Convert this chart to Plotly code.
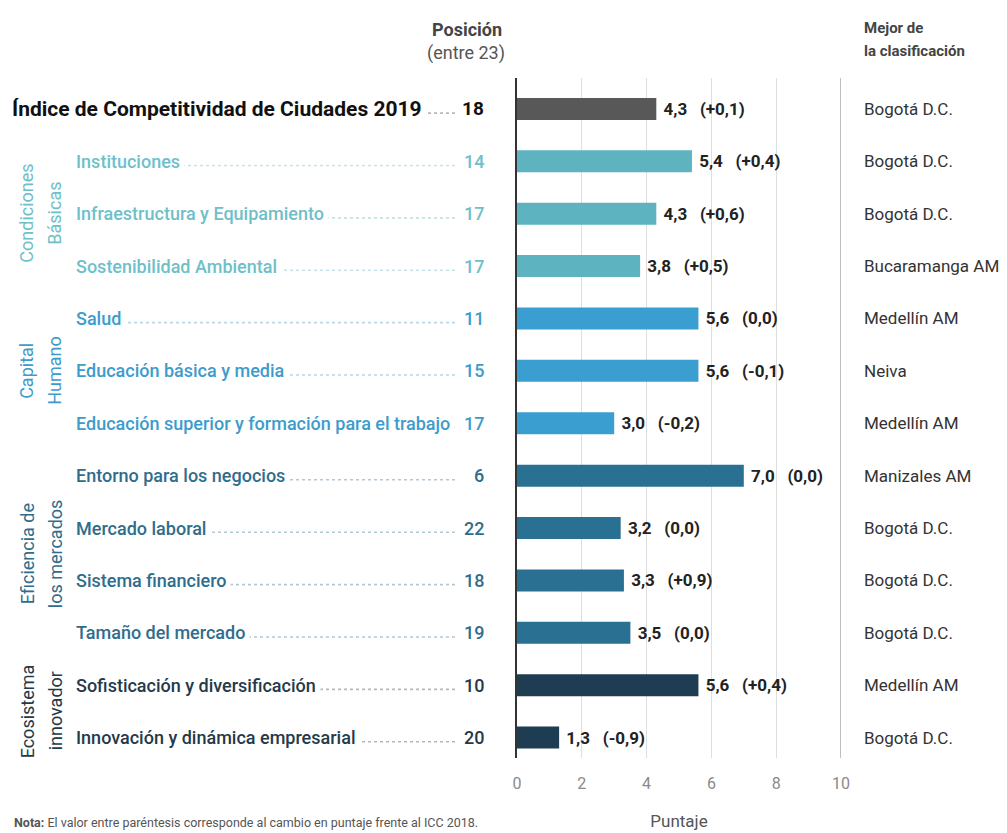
import plotly.graph_objects as go

# data
CATEGORIES = ["Índice de Competitividad de Ciudades 2019",
              "Instituciones",
              "Infraestructura y Equipamiento",
              "Sostenibilidad Ambiental",
              "Salud",
              "Educación básica y media",
              "Educación superior y formación para el trabajo",
              "Entorno para los negocios",
              "Mercado laboral",
              "Sistema financiero",
              "Tamaño del mercado",
              "Sofisticación y diversificación",
              "Innovación y dinámica empresarial"]
SCORES = [4.3, 5.4, 4.3, 3.8, 5.6, 5.6, 3.0, 7.0, 3.2, 3.3, 3.5, 5.6, 1.3]
CHANGES = [0.1, 0.4, 0.6, 0.5, 0.0, -0.1, -0.2, 0.0, 0.0, 0.9, 0.0, 0.4, -0.9]
POSITIONS = [18, 14, 17, 17, 11, 15, 17, 6, 22, 18, 19, 10, 20]
BEST = ["Bogotá D.C.", "Bogotá D.C.", "Bogotá D.C.", "Bucaramanga AM",
        "Medellín AM", "Neiva", "Medellín AM", "Manizales AM",
        "Bogotá D.C.", "Bogotá D.C.", "Bogotá D.C.", "Medellín AM",
        "Bogotá D.C."]
GROUP_OF_ROW = [0, 1, 1, 1, 2, 2, 2, 3, 3, 3, 3, 4, 4]
GROUP_NAMES = [None, ("Condiciones", "Básicas"), ("Capital", "Humano"),
               ("Eficiencia de", "los mercados"), ("Ecosistema", "innovador")]
X_TICKS = [0, 2, 4, 6, 8, 10]

# styles
BAR_COLORS = ["#585858", "#5db3bf", "#3a9fd0", "#2a7092", "#1f3d52"]
TEXT_COLORS = ["#111111", "#6fbfc9", "#3d9ccb", "#2f6d8c", "#243a4a"]
DOT_COLORS = ["#bbbbbb", "#c4e2e6", "#b7d8ea", "#b3c8d4", "#b0b9c0"]
FONT = "Roboto"

# the page puts the figure 8px in from the top-left corner
OFF = 8
W, H = 1007 - OFF, 833 - OFF
# plot area in page pixels
L, R, T, B = 517, 841, 78, 758


def px(x):
    return (x - L) / (R - L)


def py(y):
    return (B - y) / (B - T)


def fmt(v, sign=False):
    if abs(v) < 1e-9:
        return "0,0"
    s = f"{v:.1f}".replace(".", ",")
    if sign and v > 0:
        s = "+" + s
    return s


rows = list(range(len(CATEGORIES)))
NB = "\u00a0"
bar_text = [NB + fmt(s) + NB * 3 + "(" + fmt(c, True) + ")"
            for s, c in zip(SCORES, CHANGES)]

bars = go.Bar(x=SCORES, y=rows, orientation="h", width=0.42,
              marker=dict(color=[BAR_COLORS[g] for g in GROUP_OF_ROW], line=dict(width=0)),
              text=bar_text, textposition="outside", constraintext="none",
              textfont=dict(family=FONT, size=17, color="#222222", weight="bold"),
              cliponaxis=False, hoverinfo="skip")

fig = go.Figure(data=[bars])

shapes = []
annotations = []

for i, name in enumerate(CATEGORIES):
    g = GROUP_OF_ROW[i]
    # dotted leader, hidden behind the label background
    shapes.append(dict(type="line", xref="paper", yref="y",
                       x0=px(80), x1=px(455), y0=i + 0.08, y1=i + 0.08,
                       line=dict(color=DOT_COLORS[g], width=1.6, dash="dot")))
    if g == 0:
        lab_font = dict(family=FONT, size=21, color=TEXT_COLORS[g], weight="bold")
        lab_x = 12
    else:
        lab_font = dict(family=FONT, size=18, color=TEXT_COLORS[g], weight=500)
        lab_x = 76
    annotations.append(dict(xref="paper", yref="y", x=px(lab_x - 5), y=i,
                            text=name, showarrow=False, xanchor="left",
                            yanchor="middle", font=lab_font,
                            bgcolor="white", borderpad=4))
    num_font = dict(family=FONT, size=19 if g == 0 else 18,
                    color=TEXT_COLORS[g], weight="bold" if g == 0 else 500)
    annotations.append(dict(xref="paper", yref="y", x=px(486), y=i,
                            text=str(POSITIONS[i]), showarrow=False,
                            xanchor="right", yanchor="middle", font=num_font))
    annotations.append(dict(xref="paper", yref="y", x=px(862), y=i,
                            text=BEST[i], showarrow=False, xanchor="left",
                            yanchor="middle",
                            font=dict(family=FONT, size=17, color="#333333")))

# group labels, rotated, one annotation per line
for g in range(1, len(GROUP_NAMES)):
    members = [i for i in rows if GROUP_OF_ROW[i] == g]
    mid = (members[0] + members[-1]) / 2
    for line, xpos in zip(GROUP_NAMES[g], [27, 55]):
        annotations.append(dict(xref="paper", yref="y", x=px(xpos), y=mid,
                                text=line, showarrow=False, textangle=-90,
                                xanchor="center", yanchor="middle",
                                font=dict(family=FONT, size=18, color=TEXT_COLORS[g])))

# headers and note
annotations += [
    dict(xref="paper", yref="paper", x=px(504), y=py(29), text="<b>Posición</b>",
         showarrow=False, xanchor="right", yanchor="middle",
         font=dict(family=FONT, size=18, color="#444444")),
    dict(xref="paper", yref="paper", x=px(507), y=py(53), text="(entre 23)",
         showarrow=False, xanchor="right", yanchor="middle",
         font=dict(family=FONT, size=18, color="#555555")),
    dict(xref="paper", yref="paper", x=px(862), y=py(28), text="<b>Mejor de</b>",
         showarrow=False, xanchor="left", yanchor="middle",
         font=dict(family=FONT, size=15, color="#444444")),
    dict(xref="paper", yref="paper", x=px(862), y=py(51), text="<b>la clasificación</b>",
         showarrow=False, xanchor="left", yanchor="middle",
         font=dict(family=FONT, size=15, color="#444444")),
    dict(xref="paper", yref="paper", x=px(12), y=py(822),
         text="<b>Nota:</b> El valor entre paréntesis corresponde al cambio en puntaje frente al ICC 2018.",
         showarrow=False, xanchor="left", yanchor="middle",
         font=dict(family=FONT, size=12.5, color="#555555")),
]

# reference line at the end of the scale
shapes.append(dict(type="line", xref="x", yref="paper", x0=10, x1=10, y0=0, y1=1,
                   line=dict(color="#a8a8a8", width=1.5)))

fig.update_layout(
    width=W, height=H,
    margin=dict(l=L - OFF, r=W - (R - OFF), t=T - OFF, b=H - (B - OFF)),
    paper_bgcolor="white", plot_bgcolor="white",
    showlegend=False,
    shapes=shapes, annotations=annotations,
    xaxis=dict(range=[0, 10], tickvals=X_TICKS, showgrid=True, automargin=False,
               gridcolor="#dedede", gridwidth=1, zeroline=False, showline=False,
               ticks="", ticklabelstandoff=14,
               tickfont=dict(family=FONT, size=16, color="#8a8a8a"),
               title=dict(text="Puntaje", standoff=23,
                          font=dict(family=FONT, size=17, color="#555555"))),
    yaxis=dict(range=[12.39, -0.59], showticklabels=False, showgrid=False,
               automargin=False,
               zeroline=False, showline=True, linecolor="#333333", linewidth=2,
               ticks=""),
)

fig.write_html("out.html")
